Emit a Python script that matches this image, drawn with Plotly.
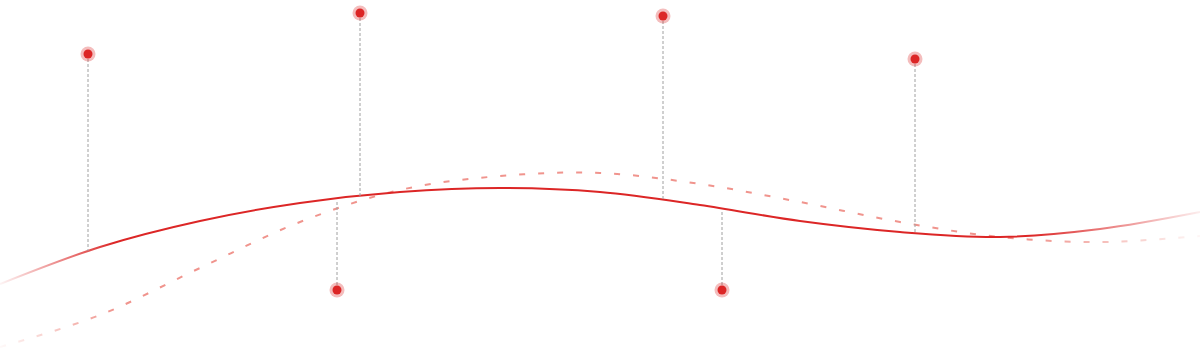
import plotly.graph_objects as go

# Main (solid) curve anchor points
solid_x = [0, 100, 200, 300, 400, 500, 600, 700, 800, 900, 1000, 1100, 1200]
solid_y = [284, 247, 221, 203, 192, 188, 192, 205, 221, 232, 237, 229, 212]

# Secondary (dashed) curve anchor points
dash_x = [0, 100, 200, 300, 400, 500, 600, 700, 800, 900, 1000, 1100, 1200]
dash_y = [347, 315, 268, 222, 190, 176, 173, 184, 202, 222, 237, 242, 236]

# Markers: position and anchor on curve
pin_x = [88, 360, 337, 663, 722, 915]
pin_y = [54, 13, 290, 16, 290, 59]
pin_anchor_y = [251, 196, 200, 199, 210, 233]

RED = "#dc2626"

fig = go.Figure()

fig.add_trace(go.Scatter(
    x=dash_x, y=dash_y, mode="lines",
    line=dict(color="rgba(232,90,80,0.65)", width=2, dash="6px,13px", shape="spline", smoothing=1),
    hoverinfo="skip", showlegend=False))

fig.add_trace(go.Scatter(
    x=solid_x, y=solid_y, mode="lines",
    line=dict(color=RED, width=2, shape="spline", smoothing=1),
    hoverinfo="skip", showlegend=False))

# Fade overlays at the ends (white gradient)
fig.add_trace(go.Scatter(
    x=[0, 115, 115, 0, 0], y=[200, 200, 350, 350, 200], mode="lines",
    fill="toself", line=dict(width=0, color="rgba(0,0,0,0)"),
    fillgradient=dict(type="horizontal",
                      colorscale=[[0, "rgba(255,255,255,0.95)"], [1, "rgba(255,255,255,0)"]]),
    hoverinfo="skip", showlegend=False))
fig.add_trace(go.Scatter(
    x=[1030, 1200, 1200, 1030, 1030], y=[190, 190, 260, 260, 190], mode="lines",
    fill="toself", line=dict(width=0, color="rgba(0,0,0,0)"),
    fillgradient=dict(type="horizontal",
                      colorscale=[[0, "rgba(255,255,255,0)"], [1, "rgba(255,255,255,0.92)"]]),
    hoverinfo="skip", showlegend=False))

# Vertical dashed connectors
for px, py, ay in zip(pin_x, pin_y, pin_anchor_y):
    fig.add_trace(go.Scatter(
        x=[px, px], y=[py, ay], mode="lines",
        line=dict(color="#a0a0a0", width=1, dash="3px,2px"),
        hoverinfo="skip", showlegend=False))

# Marker halos and dots
fig.add_trace(go.Scatter(
    x=pin_x, y=pin_y, mode="markers",
    marker=dict(size=15, color="rgba(220,38,38,0.3)", line=dict(width=0)),
    hoverinfo="skip", showlegend=False))
fig.add_trace(go.Scatter(
    x=pin_x, y=pin_y, mode="markers",
    marker=dict(size=9, color=RED, line=dict(width=0)),
    hoverinfo="skip", showlegend=False))

fig.update_layout(
    width=1200, height=350,
    margin=dict(l=0, r=0, t=0, b=0),
    paper_bgcolor="white", plot_bgcolor="white",
    xaxis=dict(range=[0, 1200], visible=False, fixedrange=True),
    yaxis=dict(range=[350, 0], visible=False, fixedrange=True),
)

fig.write_html("out.html", config={"displayModeBar": False},
               post_script="document.body.style.margin='0';document.body.style.padding='0';")
